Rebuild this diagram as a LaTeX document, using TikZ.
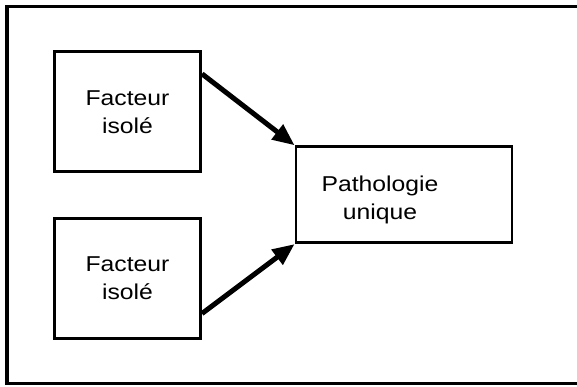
\documentclass[tikz,border=0pt]{standalone}
\usepackage{fontspec}
\setmainfont[FakeStretch=1.15]{Liberation Sans}
\usetikzlibrary{arrows.meta,calc}
\begin{document}
\begin{tikzpicture}[x=1pt,y=-1pt,
  facbox/.style={draw,line width=3pt,inner sep=0pt,align=center,
    minimum width=146pt,minimum height=120pt,font=\fontsize{21.5}{28}\selectfont},
  patbox/.style={draw,line width=2.8pt,inner sep=0pt,minimum width=216pt,minimum height=96pt},
  lbl/.style={inner sep=0pt,align=center,font=\fontsize{21.5}{28}\selectfont},
  arr/.style={line width=5pt,-{Triangle[length=22pt,width=18pt]}}]
\useasboundingbox (0,0) rectangle (577,387);
\draw[line width=3.5pt] (590,6.5) -- (7,6.5) -- (7,383.5) -- (590,383.5);
\node[facbox] (f1) at (127.5,112) {Facteur\\isolé};
\node[facbox] (f2) at (127.5,278.5) {Facteur\\isolé};
\node[patbox] (p) at (404,194.7) {};
\node[lbl] (pt) at (380,200) {Pathologie\\unique};
\draw[arr] ($(f1.north east)!0.19!(f1.south east)$) -- (p.north west);
\draw[arr] ($(f2.north east)!0.785!(f2.south east)$) -- (p.south west);
\end{tikzpicture}
\end{document}
